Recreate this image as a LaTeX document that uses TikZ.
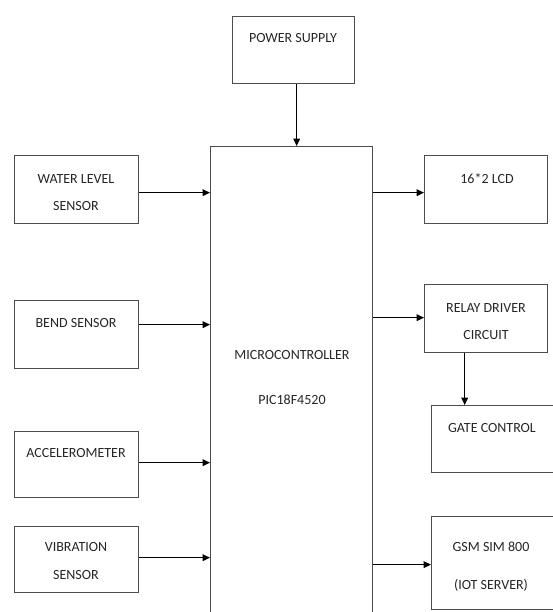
\documentclass[tikz,border=0pt]{standalone}
\usepackage{fontspec}
\setmainfont{Carlito}
\usetikzlibrary{arrows.meta}
\begin{document}
\begin{tikzpicture}[x=0.75pt, y=-0.75pt,
  block/.style={draw=black!70, line width=1pt, anchor=north west, inner sep=0pt},
  lbl/.style={font=\fontsize{10.5}{12}\selectfont, text=black!85, inner sep=0pt},
  arr/.style={draw=black, line width=0.8pt, -{Triangle[length=5.5pt, width=5pt]}}]
  \clip (0,0) rectangle (553,612);
  % blocks
  \foreach \name/\x/\y/\w/\h in {power/232/16/122/67, micro/210/146/162/480,
      water/14/155/124/68, bend/14/300/124/68, accel/14/431/124/66, vib/14/526/124/66,
      lcd/424/155/123/68, relay/424/284/123/68, gate/431/405/130/67, gsm/431/516/130/93} {
    \node[block, minimum width=\w*0.75pt, minimum height=\h*0.75pt] (\name) at (\x,\y) {};
  }
  % texts
  \foreach \x/\y/\txt [count=\i] in {293/38/POWER SUPPLY, 76/179/WATER LEVEL, 76/206/SENSOR,
      76/323/BEND SENSOR, 76/453/ACCELEROMETER, 76/547/VIBRATION, 76/575/SENSOR,
      292/355/MICROCONTROLLER, 292/400/PIC18F4520, 487/179/16*2 LCD,
      486/308/RELAY DRIVER, 486/335/CIRCUIT, 492/428/GATE CONTROL,
      491/547/GSM SIM 800, 491/585/(IOT SERVER)} {
    \node[lbl] (t\i) at (\x,\y) {\txt};
  }
  % connectors
  \coordinate (ps) at ([xshift=2.25pt]power.south);
  \draw[arr] (ps) -- (ps |- micro.north);
  \foreach \src/\dy in {water/-2.25, bend/7.5, accel/1.5, vib/1.5} {
    \coordinate (\src-out) at ([yshift=\dy pt]\src.east);
    \draw[arr] (\src-out) -- (\src-out -| micro.west);
  }
  \foreach \dst/\dy in {lcd/-2.25, relay/0.75, gsm/-1.1} {
    \coordinate (\dst-in) at ([yshift=\dy pt]\dst.west);
    \draw[arr] (\dst-in -| micro.east) -- (\dst-in);
  }
  \coordinate (rd) at ([xshift=-16.1pt]relay.south);
  \draw[arr] (rd) -- (rd |- gate.north);
\end{tikzpicture}
\end{document}
